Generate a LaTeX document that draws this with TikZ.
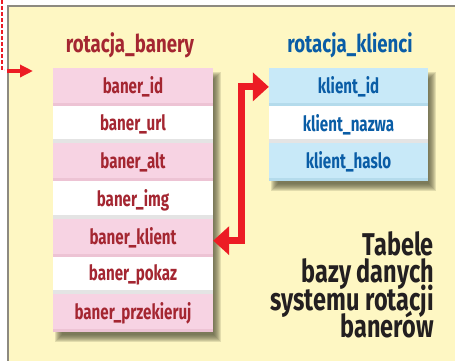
\documentclass[tikz,border=0pt]{standalone}
\usepackage{fontspec}
\setmainfont{Fira Sans}[FakeStretch=0.72]
\newfontfamily\titlefont{Fira Sans}[FakeStretch=0.76]
\newfontfamily\capfont{Fira Sans}[FakeStretch=0.745]
\newcommand{\mycapskip}{\lineskiplimit=-100pt\relax\lineskip=0pt\relax}
\usetikzlibrary{arrows.meta,calc}
\definecolor{panelfill}{HTML}{FEF7C3}
\definecolor{panelline}{HTML}{8D8A80}
\definecolor{pinkrow}{HTML}{F7D3E3}
\definecolor{pinkband}{HTML}{EDC3D4}
\definecolor{bluerow}{HTML}{C8E9F8}
\definecolor{blueband}{HTML}{B4DBEC}
\definecolor{whiteband}{HTML}{E4E4E4}
\definecolor{redtext}{HTML}{A42631}
\definecolor{bluetext}{HTML}{0A5DA6}
\definecolor{arrowred}{HTML}{EC1C24}
\definecolor{captext}{HTML}{231F20}
\definecolor{shadowc}{HTML}{55553A}
\tikzset{
  rowbase/.style={minimum width=160pt, minimum height=37.7pt, inner sep=0pt,
    font=\bfseries\fontsize{21}{22}\selectfont},
  pinkbox/.style={rowbase, fill=pinkrow, text=redtext,
    path picture={\fill[pinkband] (path picture bounding box.south west) rectangle ([yshift=3pt]path picture bounding box.south east);}},
  whitebox/.style={rowbase, fill=white, text=redtext,
    path picture={\fill[whiteband] (path picture bounding box.south west) rectangle ([yshift=4pt]path picture bounding box.south east);}},
  bluebox/.style={rowbase, fill=bluerow, text=bluetext,
    path picture={\fill[blueband] (path picture bounding box.south west) rectangle ([yshift=3pt]path picture bounding box.south east);}},
  bwhitebox/.style={rowbase, fill=white, text=bluetext,
    path picture={\fill[whiteband] (path picture bounding box.south west) rectangle ([yshift=4pt]path picture bounding box.south east);}},
  tabtitle/.style={inner sep=0pt, font=\titlefont\bfseries\fontsize{24.5}{25}\selectfont},
  link/.style={draw=arrowred, line width=7pt, {Triangle[length=16pt,width=28pt]}-{Triangle[length=16pt,width=28pt]}, arrowred},
}
\begin{document}
\begin{tikzpicture}[x=1pt,y=-1pt]
\useasboundingbox (0,0) rectangle (455,360);
% panel
\fill[panelfill] (8,6) rectangle (470,370);
\draw[panelline, line width=2pt] (8,375) -- (8,6) -- (470,6);
% shadows
\foreach \k in {-3,...,4}{
  \fill[shadowc, opacity=0.16] (53+5+\k,68+7+\k) rectangle (213+5-\k,332+7-\k);
  \fill[shadowc, opacity=0.16] (269+5+\k,68+7+\k) rectangle (428+5-\k,181+7-\k);
}
% left table
\node[tabtitle, text=redtext] (tb) at (130,45) {rotacja\_banery};
\node[pinkbox]  (b1) at (133,86.85)  {baner\_id};
\node[whitebox] (b2) at (133,124.55) {baner\_url};
\node[pinkbox]  (b3) at (133,162.25) {baner\_alt};
\node[whitebox] (b4) at (133,199.95) {baner\_img};
\node[pinkbox]  (b5) at (133,237.65) {baner\_klient};
\node[whitebox] (b6) at (133,275.35) {baner\_pokaz};
\node[pinkbox]  (b7) at (133,313.05) {baner\_przekieruj};
% right table
\node[tabtitle, text=bluetext] (tk) at (350,45) {rotacja\_klienci};
\node[bluebox, minimum width=159pt]   (k1) at (348.5,86.85)  {klient\_id};
\node[bwhitebox, minimum width=159pt] (k2) at (348.5,124.55) {klient\_nazwa};
\node[bluebox, minimum width=159pt]   (k3) at (348.5,162.25) {klient\_haslo};
% link
\draw[link] ([yshift=-3pt]b5.east) -- ++(28,0) |- (k1.west);
% left incoming marker
\coordinate (d0) at (2,0);
\coordinate (d1) at (2,70);
\coordinate (a0) at (7,71);
\coordinate (a1) at (33,71);
\draw[arrowred, line width=2.6pt, dash pattern=on 4pt off 2pt] (d0) -- (d1) -- ++(2,0);
\draw[arrowred, line width=3.5pt, -{Triangle[length=13pt,width=12pt]}] (a0) -- (a1);
% caption
\node[anchor=north east, inner sep=0pt, align=right, text=captext,
  font=\capfont\bfseries\fontsize{31.5}{27.5}\selectfont\mycapskip] (cap) at (434,231)
  {Tabele\\bazy danych\\systemu rotacji\\banerów};
\end{tikzpicture}
\end{document}
